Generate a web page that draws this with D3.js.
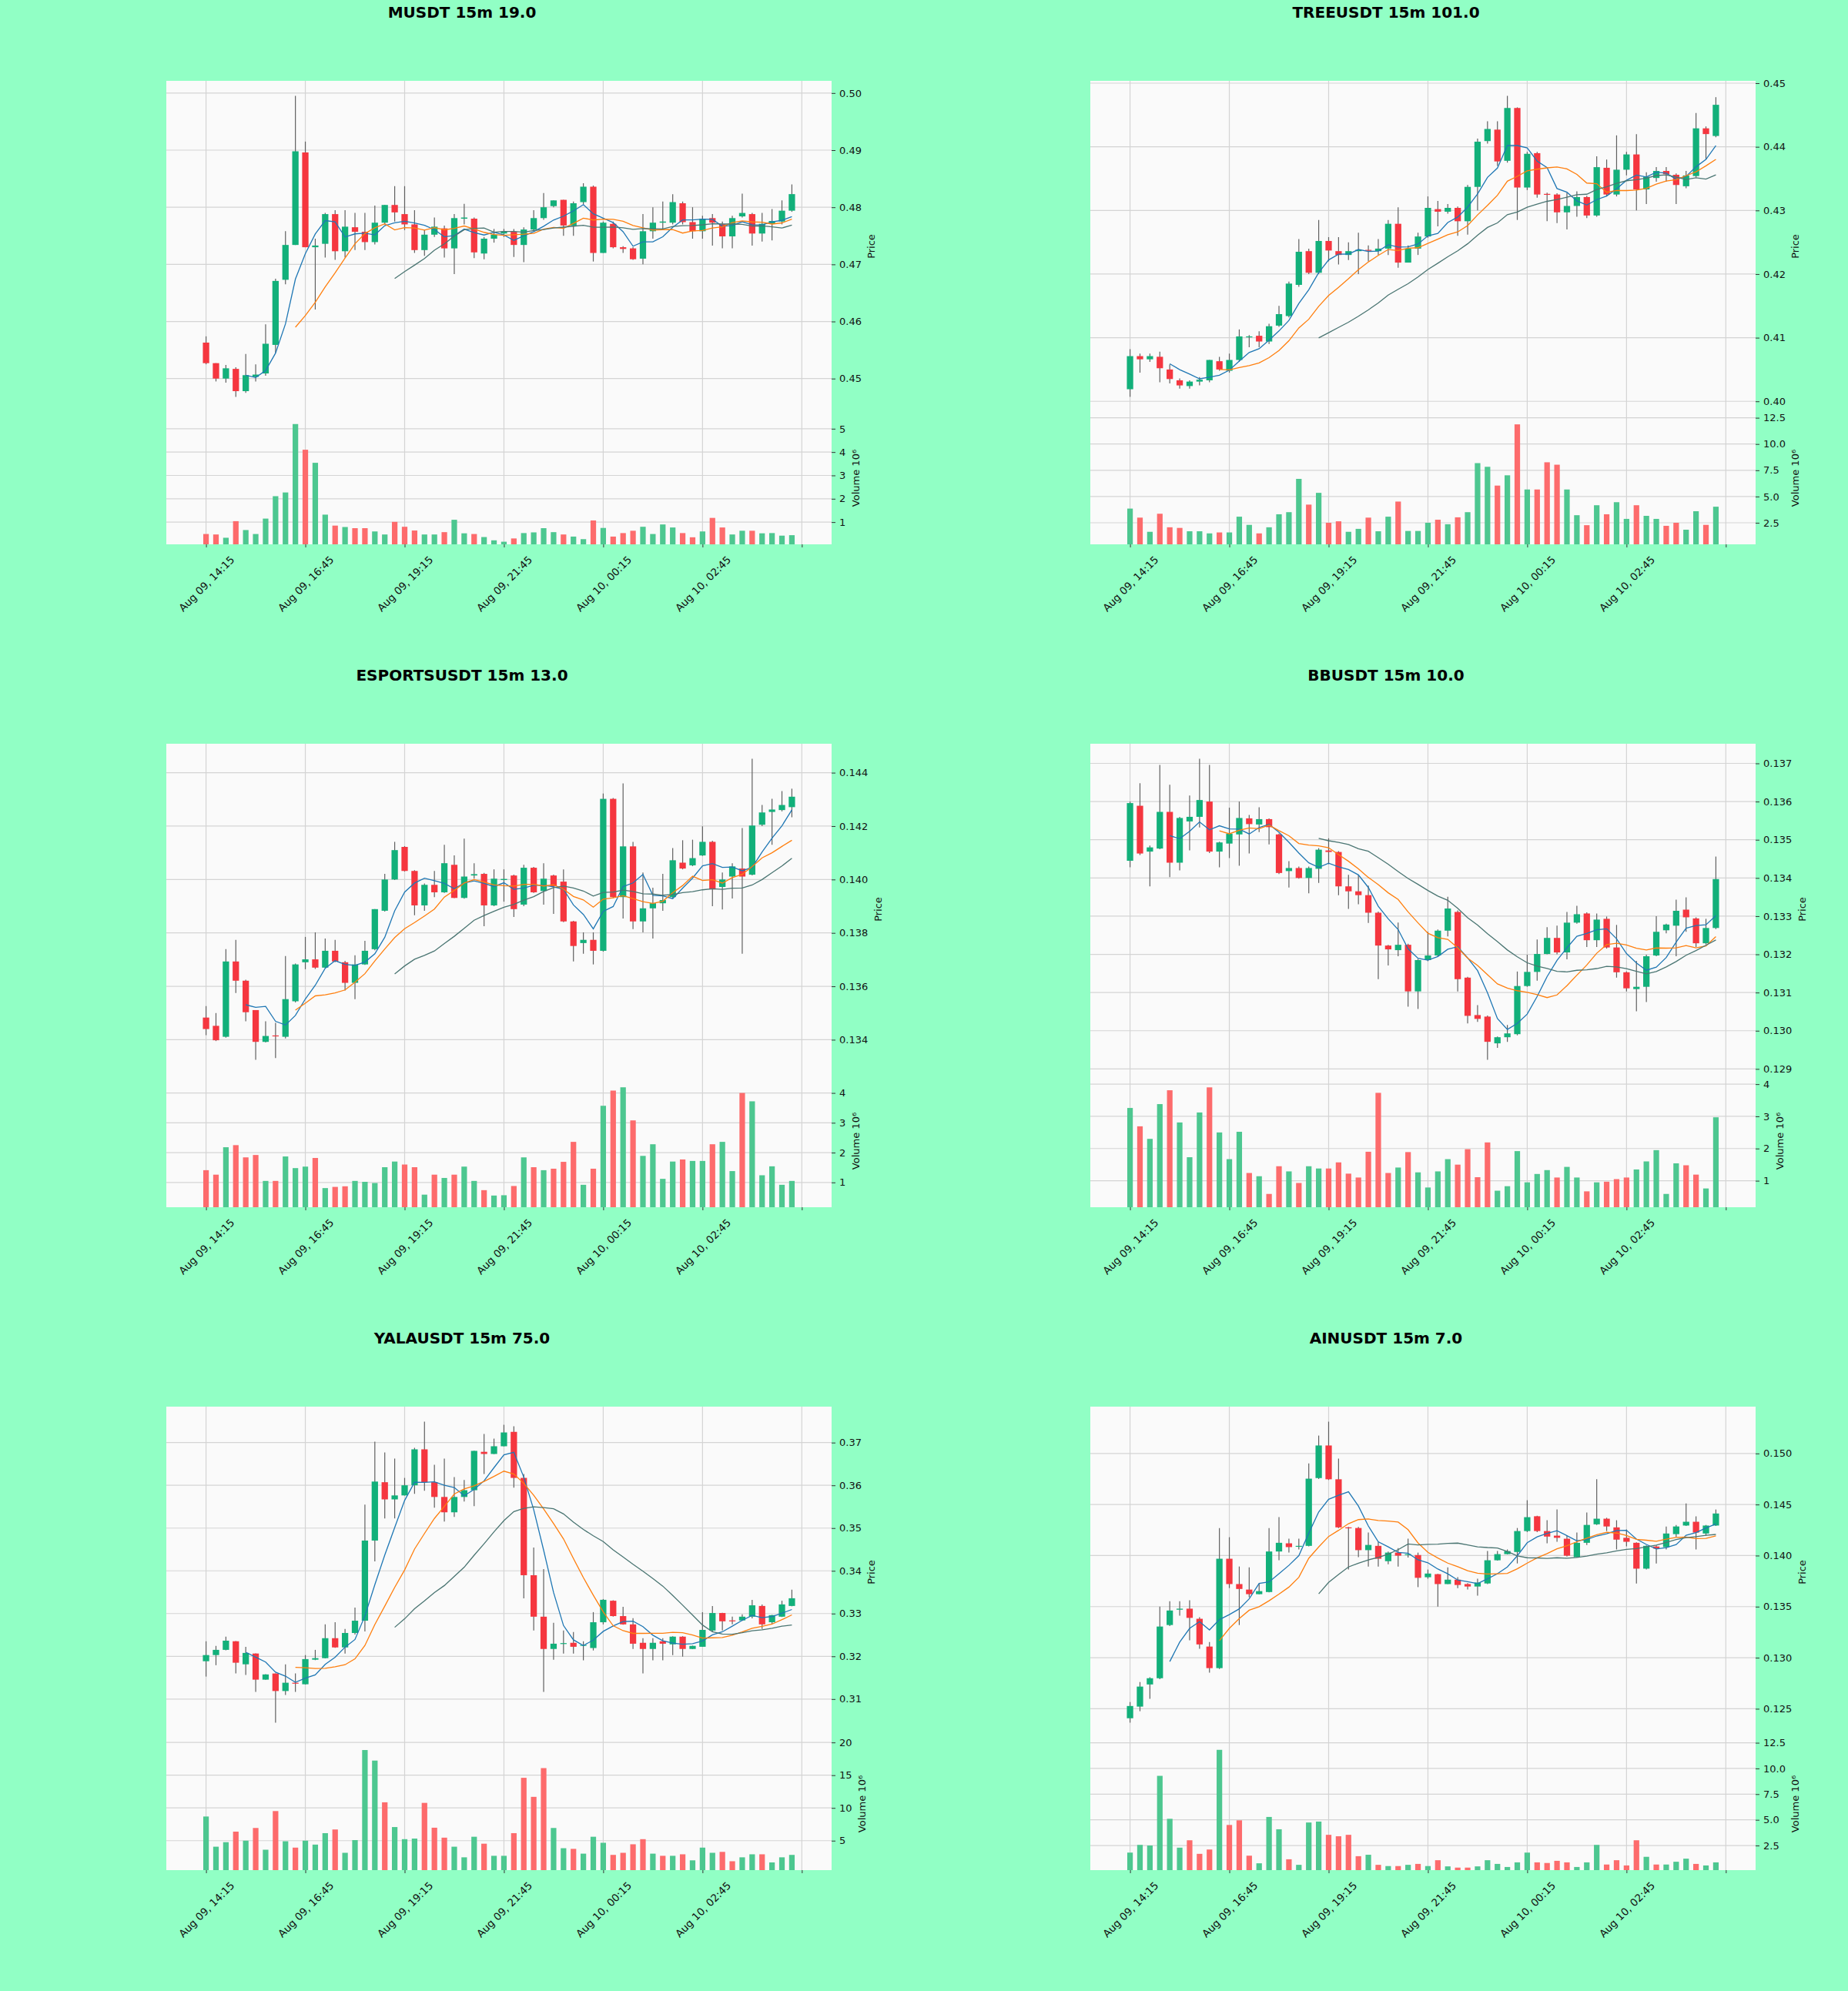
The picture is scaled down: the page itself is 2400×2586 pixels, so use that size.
<!DOCTYPE html>
<html>
<head>
<meta charset="utf-8">
<script src="https://cdn.jsdelivr.net/npm/d3@7"></script>
<style>
  body { margin: 0; background: #91ffc5; }
  text { font-family: "DejaVu Sans", sans-serif; }
</style>
</head>
<body>
<script>
// ---- data: [open, high, low, close] per 15m candle ----
const titles = ["MUSDT 15m 19.0", "TREEUSDT 15m 101.0", "ESPORTSUSDT 15m 13.0",
                "BBUSDT 15m 10.0", "YALAUSDT 15m 75.0", "AINUSDT 15m 7.0"];

const timeLabels = ["Aug 09, 14:15", "Aug 09, 16:45", "Aug 09, 19:15",
                    "Aug 09, 21:45", "Aug 10, 00:15", "Aug 10, 02:45", ""];

const maWindows = [5, 10, 20];

const musdtOHLC = [
  [.4563,.4574,.4525,.4527],[.4527,.4527,.4495,.4500],[.4500,.4524,.4493,.4518],[.4517,.4520,.4468,.4478],
  [.4478,.4543,.4475,.4506],[.4503,.4525,.4495,.4507],[.4509,.4595,.4505,.4561],[.4559,.4675,.4545,.4671],
  [.4673,.4758,.4665,.4734],[.4734,.4995,.4734,.4898],[.4896,.4915,.4730,.4730],[.4730,.4745,.4621,.4733],
  [.4736,.4790,.4712,.4788],[.4788,.4795,.4708,.4723],[.4723,.4795,.4712,.4766],[.4765,.4790,.4725,.4757],
  [.4757,.4790,.4725,.4739],[.4739,.4803,.4735,.4773],[.4773,.4804,.4770,.4804],[.4804,.4837,.4775,.4791],
  [.4788,.4837,.4760,.4770],[.4770,.4795,.4720,.4725],[.4725,.4760,.4715,.4752],[.4752,.4782,.4748,.4766],
  [.4763,.4768,.4712,.4728],[.4728,.4788,.4683,.4781],[.4780,.4806,.4770,.4782],[.4780,.4782,.4711,.4721],
  [.4719,.4748,.4709,.4745],[.4745,.4762,.4738,.4752],[.4754,.4762,.4748,.4758],[.4757,.4762,.4713,.4734],
  [.4734,.4765,.4704,.4761],[.4761,.4795,.4758,.4781],[.4781,.4825,.4778,.4800],[.4802,.4812,.4800,.4812],
  [.4813,.4813,.4750,.4768],[.4768,.4810,.4750,.4807],[.4809,.4842,.4805,.4836],[.4836,.4838,.4705,.4720],
  [.4720,.4775,.4720,.4773],[.4771,.4775,.4728,.4730],[.4730,.4732,.4720,.4727],[.4728,.4730,.4708,.4709],
  [.4710,.4788,.4700,.4758],[.4758,.4800,.4745,.4773],[.4773,.4810,.4760,.4775],[.4773,.4823,.4770,.4809],
  [.4807,.4810,.4770,.4774],[.4774,.4800,.4745,.4758],[.4758,.4785,.4745,.4780],[.4781,.4788,.4733,.4773],
  [.4770,.4775,.4728,.4749],[.4749,.4785,.4728,.4781],[.4784,.4824,.4782,.4790],[.4788,.4790,.4733,.4754],
  [.4754,.4790,.4740,.4771],[.4771,.4797,.4742,.4776],[.4775,.4812,.4770,.4794],[.4794,.4840,.4792,.4823]
];
const musdtVolume = [0.49,0.47,0.33,1.04,0.66,0.49,1.15,2.11,2.27,5.20,4.10,3.54,1.32,0.85,0.79,0.74,0.74,0.60,0.47,1.01,
  0.80,0.64,0.47,0.47,0.57,1.10,0.52,0.49,0.36,0.22,0.16,0.30,0.53,0.56,0.74,0.57,0.47,0.38,0.27,1.07,
  0.75,0.38,0.53,0.63,0.80,0.49,0.90,0.77,0.53,0.35,0.60,1.18,0.77,0.47,0.63,0.63,0.52,0.53,0.42,0.44];

const treeusdtOHLC = [
  [.4019,.4082,.4007,.4071],[.4071,.4075,.4045,.4066],[.4066,.4075,.4062,.4071],[.4070,.4078,.4030,.4052],
  [.4050,.4058,.4028,.4035],[.4033,.4036,.4020,.4025],[.4024,.4033,.4020,.4031],[.4031,.4038,.4025,.4034],
  [.4033,.4065,.4030,.4065],[.4063,.4070,.4048,.4050],[.4048,.4075,.4045,.4065],[.4065,.4113,.4062,.4102],
  [.4101,.4104,.4085,.4102],[.4103,.4110,.4085,.4094],[.4094,.4122,.4090,.4118],[.4119,.4150,.4117,.4137],
  [.4134,.4188,.4132,.4185],[.4183,.4255,.4180,.4235],[.4236,.4240,.4200,.4202],[.4202,.4285,.4200,.4252],
  [.4252,.4258,.4220,.4237],[.4236,.4258,.4215,.4230],[.4230,.4250,.4222,.4236],[.4236,.4265,.4200,.4238],
  [.4238,.4245,.4220,.4237],[.4236,.4255,.4230,.4240],[.4240,.4285,.4230,.4279],[.4279,.4305,.4210,.4218],
  [.4218,.4245,.4218,.4240],[.4240,.4265,.4230,.4259],[.4259,.4322,.4257,.4304],[.4302,.4315,.4275,.4298],
  [.4298,.4310,.4295,.4304],[.4304,.4306,.4260,.4283],[.4283,.4340,.4262,.4337],[.4337,.4413,.4300,.4408],
  [.4409,.4440,.4405,.4428],[.4427,.4440,.4370,.4377],[.4378,.4480,.4375,.4461],[.4461,.4462,.4285,.4336],
  [.4336,.4392,.4332,.4389],[.4390,.4392,.4320,.4325],[.4326,.4328,.4283,.4325],[.4325,.4327,.4280,.4297],
  [.4297,.4328,.4270,.4307],[.4307,.4330,.4290,.4321],[.4321,.4323,.4288,.4292],[.4292,.4385,.4290,.4368],
  [.4367,.4380,.4322,.4325],[.4325,.4418,.4322,.4364],[.4364,.4392,.4355,.4388],[.4388,.4420,.4300,.4333],
  [.4333,.4360,.4310,.4353],[.4351,.4368,.4345,.4362],[.4362,.4368,.4345,.4357],[.4356,.4358,.4310,.4340],
  [.4338,.4362,.4335,.4355],[.4354,.4453,.4352,.4429],[.4429,.4432,.4380,.4420],[.4417,.4478,.4415,.4466]
];
const treeusdtVolume = [3.85,2.99,1.64,3.36,2.07,2.01,1.69,1.69,1.49,1.58,1.58,3.08,2.30,1.49,2.07,3.31,3.51,6.68,4.23,5.35,
  2.50,2.64,1.64,1.92,2.99,1.69,3.08,4.52,1.72,1.72,2.50,2.79,2.36,3.02,3.51,8.18,7.83,6.04,7.02,11.87,
  5.67,5.67,8.26,8.03,5.67,3.22,2.27,4.17,3.31,4.46,2.87,4.17,3.16,2.87,2.21,2.50,1.84,3.60,2.30,4.03];

const esportsOHLC = [
  [.13483,.13526,.13417,.13440],[.13452,.13500,.13395,.13398],[.13411,.13739,.13408,.13693],[.13693,.13774,.13575,.13621],
  [.13621,.13625,.13469,.13503],[.13511,.13511,.13325,.13392],[.13392,.13469,.13390,.13414],[.13416,.13463,.13331,.13414],
  [.13411,.13713,.13405,.13552],[.13544,.13685,.13540,.13682],[.13690,.13785,.13664,.13701],[.13701,.13802,.13665,.13670],
  [.13670,.13779,.13668,.13733],[.13733,.13774,.13690,.13693],[.13690,.13695,.13584,.13613],[.13613,.13716,.13552,.13682],
  [.13682,.13770,.13680,.13733],[.13739,.13889,.13735,.13889],[.13883,.14021,.13880,.14000],[.14000,.14141,.13998,.14110],
  [.14122,.14125,.14030,.14032],[.14032,.14035,.13866,.13903],[.13903,.13985,.13883,.13980],[.13980,.14032,.13934,.13952],
  [.13952,.14130,.13950,.14061],[.14055,.14090,.13930,.13931],[.13931,.14153,.13928,.14011],[.14015,.14061,.14003,.14020],
  [.14021,.14025,.13825,.13903],[.13903,.14038,.13900,.14003],[.13998,.14038,.13917,.14002],[.14015,.14018,.13860,.13889],
  [.13906,.14055,.13900,.14044],[.14044,.14047,.13950,.13952],[.13957,.14061,.13906,.14003],[.14015,.14018,.13871,.13975],
  [.13992,.14038,.13840,.13843],[.13843,.13845,.13693,.13751],[.13762,.13802,.13722,.13774],[.13774,.13802,.13682,.13733],
  [.13733,.14322,.13730,.14302],[.14302,.14305,.13930,.13934],[.13934,.14360,.13854,.14124],[.14124,.14141,.13814,.13843],
  [.13843,.14026,.13802,.13892],[.13892,.13969,.13779,.13911],[.13911,.14021,.13883,.13923],[.13934,.14118,.13930,.14072],
  [.14063,.14147,.14038,.14041],[.14053,.14149,.14050,.14080],[.14090,.14199,.14088,.14141],[.14141,.14145,.13900,.13963],
  [.13972,.14026,.13888,.14000],[.14011,.14061,.13929,.14049],[.14041,.14193,.13722,.14011],[.14018,.14452,.14015,.14202],
  [.14205,.14279,.14200,.14251],[.14253,.14302,.14130,.14262],[.14260,.14331,.14255,.14279],[.14271,.14340,.14233,.14310]
];
const esportsVolume = [1.41,1.26,2.18,2.25,1.84,1.92,1.05,1.05,1.87,1.48,1.53,1.82,0.81,0.85,0.87,1.05,1.02,0.98,1.51,1.70,
  1.60,1.51,0.59,1.26,1.15,1.26,1.53,1.05,0.74,0.56,0.57,0.88,1.84,1.51,1.41,1.46,1.69,2.36,0.92,1.46,
  3.57,4.08,4.19,3.08,1.89,2.28,1.12,1.70,1.77,1.72,1.72,2.28,2.36,1.38,4.00,3.72,1.24,1.54,0.92,1.05];

const bbusdtOHLC = [
  [.13445,.13600,.13428,.13596],[.13589,.13648,.13460,.13464],[.13469,.13485,.13378,.13480],[.13477,.13696,.13475,.13573],
  [.13573,.13644,.13402,.13440],[.13440,.13560,.13420,.13557],[.13548,.13616,.13472,.13560],[.13560,.13712,.13532,.13604],
  [.13600,.13696,.13465,.13469],[.13469,.13495,.13428,.13493],[.13490,.13584,.13452,.13516],[.13514,.13600,.13432,.13557],
  [.13556,.13565,.13464,.13541],[.13540,.13585,.13520,.13554],[.13554,.13556,.13488,.13533],[.13514,.13516,.13410,.13413],
  [.13418,.13444,.13375,.13426],[.13426,.13430,.13398,.13400],[.13400,.13430,.13360,.13426],[.13424,.13478,.13387,.13474],
  [.13472,.13504,.13436,.13468],[.13468,.13470,.13355,.13378],[.13378,.13408,.13319,.13365],[.13365,.13408,.13331,.13355],
  [.13355,.13380,.13282,.13309],[.13309,.13312,.13135,.13223],[.13223,.13225,.13171,.13213],[.13211,.13283,.13195,.13225],
  [.13225,.13228,.13063,.13103],[.13103,.13188,.13057,.13185],[.13185,.13259,.13182,.13197],[.13197,.13265,.13195,.13262],
  [.13262,.13351,.13247,.13320],[.13311,.13315,.13103,.13135],[.13139,.13141,.13019,.13039],[.13041,.13067,.13023,.13031],
  [.13037,.13040,.12924,.12971],[.12967,.12985,.12955,.12983],[.12983,.13015,.12971,.12993],[.12991,.13155,.12988,.13117],
  [.13117,.13199,.13115,.13154],[.13154,.13239,.13131,.13201],[.13201,.13271,.13200,.13243],[.13243,.13275,.13200,.13205],
  [.13205,.13311,.13187,.13283],[.13283,.13327,.13280,.13305],[.13307,.13310,.13219,.13237],[.13237,.13307,.13219,.13291],
  [.13293,.13299,.13215,.13218],[.13218,.13277,.13139,.13153],[.13153,.13155,.13103,.13111],[.13109,.13183,.13051,.13115],
  [.13115,.13199,.13075,.13195],[.13197,.13300,.13195,.13259],[.13263,.13280,.13255,.13278],[.13275,.13343,.13195,.13314],
  [.13317,.13349,.13259,.13297],[.13294,.13297,.13219,.13229],[.13229,.13293,.13226,.13269],[.13269,.13456,.13266,.13397]
];
const bbusdtVolume = [3.26,2.69,2.30,3.38,3.81,2.81,1.73,3.12,3.90,2.50,1.67,2.52,1.24,1.14,0.59,1.45,1.29,0.93,1.45,1.38,
  1.38,1.57,1.22,1.10,1.90,3.73,1.24,1.41,1.89,1.26,0.79,1.29,1.67,1.50,1.98,1.11,2.19,0.69,0.83,1.92,
  0.95,1.21,1.33,1.10,1.43,1.10,0.67,0.95,0.97,1.05,1.10,1.35,1.60,1.95,0.59,1.54,1.48,1.19,0.76,2.97];

const yalaOHLC = [
  [.31885,.32352,.31526,.32029],[.32029,.32244,.31792,.32151],[.32151,.32460,.32140,.32366],[.32352,.32355,.31598,.31850],
  [.31813,.32223,.31562,.32079],[.32065,.32070,.31167,.31454],[.31454,.31580,.31450,.31576],[.31598,.31600,.30448,.31188],
  [.31188,.31813,.31095,.31382],[.31382,.31598,.31167,.31360],[.31346,.32029,.31340,.31935],[.31921,.32151,.31910,.31957],
  [.31957,.32747,.31950,.32424],[.32424,.32797,.32200,.32208],[.32208,.32639,.32065,.32546],[.32546,.33142,.32510,.32833],
  [.32833,.35549,.32582,.34708],[.34708,.37022,.34220,.36088],[.36073,.36770,.35226,.35671],[.35671,.36626,.35226,.35764],
  [.35764,.36174,.35760,.36001],[.36001,.36878,.35800,.36842],[.36842,.37489,.35872,.36073],[.36073,.36483,.35477,.35728],
  [.35728,.36626,.35154,.35369],[.35369,.36195,.35261,.35728],[.35728,.36124,.35621,.35886],[.35886,.36810,.35513,.36806],
  [.36784,.37201,.36267,.36734],[.36734,.37093,.36730,.36914],[.36914,.37417,.36910,.37237],[.37251,.37381,.35944,.36174],
  [.36174,.36267,.33358,.33897],[.33897,.34543,.32603,.32927],[.32927,.34040,.31167,.32172],[.32172,.32783,.31921,.32295],
  [.32302,.32603,.32065,.32309],[.32316,.32568,.32065,.32223],[.32260,.32350,.31907,.32266],[.32194,.33034,.32137,.32797],
  [.32797,.33340,.32747,.33322],[.33300,.33310,.32930,.32941],[.32941,.33157,.32740,.32747],[.32747,.32891,.32172,.32295],
  [.32316,.32424,.31598,.32172],[.32172,.32424,.31907,.32316],[.32352,.32424,.31907,.32295],[.32280,.32470,.32029,.32460],
  [.32460,.32470,.31993,.32172],[.32172,.32250,.32170,.32244],[.32223,.33034,.32220,.32618],[.32603,.33178,.32568,.33013],
  [.33013,.33020,.32603,.32819],[.32840,.32927,.32747,.32833],[.32840,.32984,.32830,.32927],[.32927,.33322,.32890,.33193],
  [.33178,.33214,.32639,.32747],[.32797,.32970,.32747,.32963],[.32927,.33300,.32920,.33214],[.33178,.33559,.33170,.33358]
];
const yalaVolume = [8.69,4.08,4.77,6.38,5.00,6.94,3.62,9.52,4.91,3.94,5.00,4.40,6.15,6.71,3.15,5.09,18.84,17.23,10.86,7.08,
  5.23,5.32,10.77,6.98,5.46,4.08,2.46,5.60,4.54,2.69,2.69,6.15,14.60,11.69,16.08,6.94,3.85,3.75,3.02,5.60,
  4.68,2.83,3.15,4.45,5.23,3.02,2.69,2.69,2.92,2.00,3.94,3.15,3.29,1.86,2.46,2.92,2.92,1.68,2.46,2.83];

const ainusdtOHLC = [
  [.12407,.12566,.12364,.12527],[.12521,.12762,.12476,.12717],[.12738,.12808,.12597,.12799],[.12799,.13501,.12790,.13305],
  [.13320,.13552,.13310,.13462],[.13470,.13552,.13411,.13480],[.13480,.13562,.13170,.13390],[.13381,.13396,.13088,.13130],
  [.13109,.13154,.12853,.12898],[.12898,.14270,.12890,.13969],[.13969,.14180,.13682,.13721],[.13721,.13893,.13320,.13673],
  [.13667,.13884,.13592,.13622],[.13622,.13727,.13620,.13652],[.13643,.14270,.13640,.14040],[.14040,.14376,.13954,.14125],
  [.14120,.14165,.14030,.14083],[.14090,.14165,.14060,.14095],[.14095,.14903,.14090,.14753],[.14759,.15175,.14750,.15078],
  [.15078,.15311,.14740,.14747],[.14747,.14949,.14270,.14276],[.14276,.14280,.13863,.14270],[.14270,.14280,.13984,.14053],
  [.14053,.14225,.13893,.14104],[.14095,.14135,.13893,.13969],[.13945,.14040,.13914,.14029],[.14029,.14074,.13893,.13999],
  [.14010,.14165,.13980,.14014],[.14005,.14029,.13691,.13782],[.13788,.13863,.13773,.13824],[.13818,.13820,.13501,.13721],
  [.13721,.13884,.13720,.13764],[.13764,.13788,.13682,.13712],[.13721,.13730,.13667,.13697],[.13697,.13773,.13607,.13736],
  [.13727,.14044,.13720,.13954],[.13954,.14044,.13950,.14014],[.14014,.14059,.14010,.14044],[.14035,.14270,.13923,.14240],
  [.14240,.14542,.14230,.14376],[.14385,.14390,.14230,.14240],[.14240,.14346,.14120,.14186],[.14195,.14451,.14135,.14174],
  [.14165,.14195,.13990,.13999],[.13984,.14225,.13980,.14125],[.14125,.14421,.14104,.14300],[.14306,.14747,.14300,.14361],
  [.14361,.14370,.14240,.14285],[.14276,.14346,.14060,.14156],[.14174,.14255,.14090,.14135],[.14125,.14130,.13727,.13872],
  [.13872,.14100,.13863,.14095],[.14089,.14100,.13923,.14068],[.14083,.14285,.14060,.14216],[.14210,.14300,.14180,.14285],
  [.14294,.14511,.14290,.14331],[.14331,.14385,.14060,.14225],[.14216,.14300,.14195,.14294],[.14294,.14451,.14290,.14412]
];
const ainusdtVolume = [1.81,2.56,2.50,9.28,5.10,2.29,3.01,1.69,2.11,11.81,4.50,4.95,1.51,0.77,5.28,4.08,1.16,0.62,4.74,4.83,
  3.54,3.40,3.54,1.46,1.60,0.62,0.50,0.50,0.62,0.71,0.50,1.07,0.47,0.35,0.35,0.47,1.07,0.71,0.41,0.86,
  1.81,0.86,0.80,1.01,0.86,0.41,0.86,2.56,0.65,1.07,0.56,3.01,1.40,0.65,0.65,0.92,1.22,0.71,0.56,0.86];

// axis tick values
const musdtPriceTicks = [0.45, 0.46, 0.47, 0.48, 0.49, 0.50];
const treePriceTicks = [0.40, 0.41, 0.42, 0.43, 0.44, 0.45];
const esportsPriceTicks = [0.134, 0.136, 0.138, 0.140, 0.142, 0.144];
const bbPriceTicks = [0.129, 0.130, 0.131, 0.132, 0.133, 0.134, 0.135, 0.136, 0.137];
const yalaPriceTicks = [0.31, 0.32, 0.33, 0.34, 0.35, 0.36, 0.37];
const ainPriceTicks = [0.125, 0.130, 0.135, 0.140, 0.145, 0.150];
const volTicksSmall = [1, 2, 3, 4, 5];
const volTicksHalf = [2.5, 5.0, 7.5, 10.0, 12.5];
const volTicksFives = [5, 10, 15, 20];

const panels = [
  {title: titles[0], ohlc: musdtOHLC, vol: musdtVolume, pTicks: musdtPriceTicks, pFmt: ".2f", vTicks: volTicksSmall, vFmt: "d"},
  {title: titles[1], ohlc: treeusdtOHLC, vol: treeusdtVolume, pTicks: treePriceTicks, pFmt: ".2f", vTicks: volTicksHalf, vFmt: ".1f"},
  {title: titles[2], ohlc: esportsOHLC, vol: esportsVolume, pTicks: esportsPriceTicks, pFmt: ".3f", vTicks: volTicksSmall, vFmt: "d"},
  {title: titles[3], ohlc: bbusdtOHLC, vol: bbusdtVolume, pTicks: bbPriceTicks, pFmt: ".3f", vTicks: volTicksSmall, vFmt: "d"},
  {title: titles[4], ohlc: yalaOHLC, vol: yalaVolume, pTicks: yalaPriceTicks, pFmt: ".2f", vTicks: volTicksFives, vFmt: "d"},
  {title: titles[5], ohlc: ainusdtOHLC, vol: ainusdtVolume, pTicks: ainPriceTicks, pFmt: ".3f", vTicks: volTicksHalf, vFmt: ".1f"}
];

// ---- drawing ----
const W = 2400, H = 2586;
const bg = "#91ffc5";
const upColor = "#12b07a", downColor = "#f5363f";
const volUp = "#4dc790", volDown = "#fd6b6c";
const wickColor = "#606060";
const maColors = ["#1f77b4", "#ff7f0e", "#4a7572"];

const svg = d3.select("body").append("svg")
  .attr("width", W).attr("height", H);
svg.append("rect").attr("width", W).attr("height", H).attr("fill", bg);

const colLeft = [216, 1416], colCenter = [600, 1800];
const rowTop = [105, 966, 1827];
const plotW = 864, priceH = 430, volH = 172;
const xTickIdx = d3.range(0, 61, 10);

panels.forEach(function(p, k) {
  const col = k % 2, row = Math.floor(k / 2);
  const x0 = colLeft[col], x1 = x0 + plotW;
  const y0 = rowTop[row], yMid = y0 + priceH, y1 = yMid + volH;
  const g = svg.append("g");

  const x = d3.scaleLinear().domain([-4, 63]).range([x0, x1]);
  const lo = d3.min(p.ohlc, d => d[2]), hi = d3.max(p.ohlc, d => d[1]);
  const pad = (hi - lo) * 0.05;
  const y = d3.scaleLinear().domain([lo - pad, hi + pad]).range([yMid, y0]);
  const vy = d3.scaleLinear().domain([0.3 * d3.min(p.vol), 1.1 * d3.max(p.vol)]).range([y1, yMid]);

  g.append("rect").attr("x", x0).attr("y", y0).attr("width", plotW).attr("height", y1 - y0)
    .attr("fill", "#fafafa");

  // grid
  const grid = g.append("g").attr("stroke", "#d4d4d4").attr("stroke-width", 1.2);
  xTickIdx.forEach(i => {
    grid.append("line").attr("x1", x(i)).attr("x2", x(i)).attr("y1", y0).attr("y2", y1);
  });
  const pT = p.pTicks.filter(t => t >= y.domain()[0] && t <= y.domain()[1]);
  const vT = p.vTicks.filter(t => t >= vy.domain()[0] && t <= vy.domain()[1]);
  pT.forEach(t => grid.append("line").attr("x1", x0).attr("x2", x1).attr("y1", y(t)).attr("y2", y(t)));
  vT.forEach(t => grid.append("line").attr("x1", x0).attr("x2", x1).attr("y1", vy(t)).attr("y2", vy(t)));

  const step = x(1) - x(0);
  const bodyW = step * 0.64, barW = step * 0.56;

  // volume bars
  g.append("g").selectAll("rect").data(p.vol).enter().append("rect")
    .attr("x", (d, i) => x(i) - barW / 2)
    .attr("y", d => vy(d))
    .attr("width", barW)
    .attr("height", d => y1 - vy(d))
    .attr("fill", (d, i) => p.ohlc[i][3] >= p.ohlc[i][0] ? volUp : volDown);

  // wicks
  g.append("g").selectAll("line").data(p.ohlc).enter().append("line")
    .attr("x1", (d, i) => x(i)).attr("x2", (d, i) => x(i))
    .attr("y1", d => y(d[1])).attr("y2", d => y(d[2]))
    .attr("stroke", wickColor).attr("stroke-width", 1.2);

  // bodies
  g.append("g").selectAll("rect").data(p.ohlc).enter().append("rect")
    .attr("x", (d, i) => x(i) - bodyW / 2)
    .attr("y", d => y(Math.max(d[0], d[3])))
    .attr("width", bodyW)
    .attr("height", d => Math.max(1.2, Math.abs(y(d[0]) - y(d[3]))))
    .attr("fill", d => d[3] >= d[0] ? upColor : downColor);

  // moving averages of close
  const closes = p.ohlc.map(d => d[3]);
  maWindows.forEach(function(w, m) {
    const pts = [];
    for (let i = w - 1; i < closes.length; i++) pts.push([i, d3.mean(closes.slice(i - w + 1, i + 1))]);
    g.append("path").datum(pts)
      .attr("fill", "none").attr("stroke", maColors[m]).attr("stroke-width", 1.3)
      .attr("d", d3.line().x(d => x(d[0])).y(d => y(d[1])));
  });

  // right axes
  const pAxis = g.append("g").attr("transform", `translate(${x1},0)`)
    .call(d3.axisRight(y).tickValues(pT).tickFormat(d3.format(p.pFmt)).tickSize(5).tickPadding(5));
  const vAxis = g.append("g").attr("transform", `translate(${x1},0)`)
    .call(d3.axisRight(vy).tickValues(vT).tickFormat(d3.format(p.vFmt)).tickSize(5).tickPadding(5));
  [pAxis, vAxis].forEach(a => {
    a.select(".domain").remove();
    a.selectAll("line").attr("stroke", "#333");
    a.selectAll("text").attr("font-size", 13).attr("fill", "#111")
      .style("font-family", '"DejaVu Sans", sans-serif');
  });

  function maxW(a) {
    let m = 0;
    a.selectAll("text").each(function() { m = Math.max(m, this.getComputedTextLength()); });
    return m;
  }
  const pLabX = x1 + 10 + maxW(pAxis) + 13;
  g.append("text").attr("transform", `translate(${pLabX},${(y0 + yMid) / 2}) rotate(-90)`)
    .attr("text-anchor", "middle").attr("dominant-baseline", "central")
    .attr("font-size", 13).attr("fill", "#111").text("Price");
  const vLabX = x1 + 10 + maxW(vAxis) + 13;
  g.append("text").attr("transform", `translate(${vLabX},${(yMid + y1) / 2}) rotate(-90)`)
    .attr("text-anchor", "middle").attr("dominant-baseline", "central")
    .attr("font-size", 13).attr("fill", "#111").text("Volume  10\u2076");

  // bottom time axis
  const xAxis = g.append("g").attr("transform", `translate(0,${y1})`)
    .call(d3.axisBottom(x).tickValues(xTickIdx).tickFormat(i => timeLabels[i / 10]).tickSize(4));
  xAxis.select(".domain").remove();
  xAxis.selectAll("line").attr("stroke", "#333");
  xAxis.selectAll("text")
    .attr("y", 0).attr("dy", null)
    .attr("transform", "translate(0,51) rotate(-45)")
    .attr("text-anchor", "middle").attr("dominant-baseline", "central")
    .attr("font-size", 13.5).attr("fill", "#111")
    .style("font-family", '"DejaVu Sans", sans-serif');

  // title
  svg.append("text").attr("x", colCenter[col]).attr("y", y0 - 82)
    .attr("text-anchor", "middle").attr("font-size", 20).attr("font-weight", "bold")
    .attr("fill", "#000").text(p.title);
});
</script>
</body>
</html>
